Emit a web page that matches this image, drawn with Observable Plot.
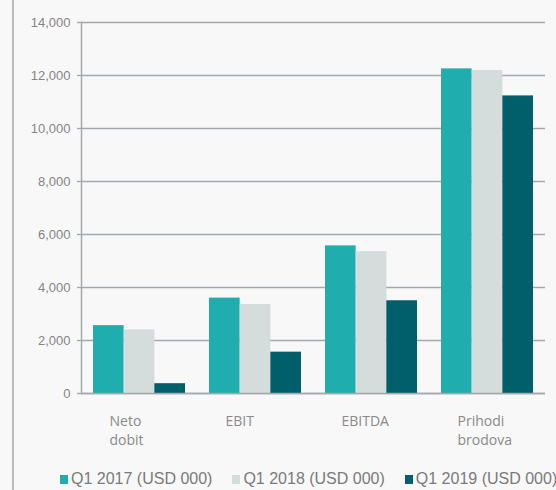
<!DOCTYPE html>
<html>
<head>
<meta charset="utf-8">
<script src="https://cdn.jsdelivr.net/npm/d3@7"></script>
<script src="https://cdn.jsdelivr.net/npm/@observablehq/plot@0.6"></script>
<style>
  html, body { margin: 0; padding: 0; background: #f8f8f8; }
  body { width: 556px; height: 490px; position: relative; overflow: hidden; }
  #edge { position: absolute; left: 12px; top: 0; width: 2px; height: 490px; background: #bcbcbc; }
  #chart { position: absolute; left: 0; top: 0; }
  #legend { position: absolute; left: 60px; top: 470px; display: flex; white-space: nowrap;
            font-family: "Liberation Sans", Arial, sans-serif; font-size: 16px; color: #7a7a7a; }
  .item { display: flex; align-items: center; margin-right: 20px; }
  .sw { width: 8px; height: 9px; margin-right: 3px; }
</style>
</head>
<body>
<div id="edge"></div>
<div id="chart"></div>
<div id="legend"></div>
<script>
const categories = ["Neto dobit", "EBIT", "EBITDA", "Prihodi brodova"];
const seriesNames = ["Q1 2017 (USD 000)", "Q1 2018 (USD 000)", "Q1 2019 (USD 000)"];
const q2017 = [2560, 3600, 5570, 12250];
const q2018 = [2400, 3360, 5350, 12190];
const q2019 = [370, 1560, 3500, 11230];
const yTicks = [0, 2000, 4000, 6000, 8000, 10000, 12000, 14000];
const colors = ["#20adad", "#d5dcdc", "#005f6b"];

const seriesValues = [q2017, q2018, q2019];
const rows = seriesValues.flatMap((vals, s) =>
  categories.map((c, i) => ({cat: c, series: seriesNames[s], value: vals[i]})));

const W = 556, H = 460;
const mL = 81, mR = 11, mT = 22, mB = 67;
const step = (W - mL - mR) / categories.length;
const outer = 12;
const bw = (step - 2 * outer) / seriesNames.length;

const barMarks = seriesNames.map((s, k) =>
  Plot.barY(rows.filter(d => d.series === s), {
    x: "cat", y: "value", fill: colors[k],
    insetLeft: outer + k * bw,
    insetRight: step - outer - (k + 1) * bw
  }));

const gridColor = "#a3a8ad";

const chart = Plot.plot({
  width: W, height: H,
  marginLeft: mL, marginRight: mR, marginTop: mT, marginBottom: mB,
  style: {background: "transparent", fontFamily: "'Liberation Sans', Arial, sans-serif"},
  x: {domain: categories, padding: 0, axis: null, label: null},
  y: {domain: [0, 14000], axis: null, label: null},
  marks: [
    Plot.gridY(yTicks, {stroke: gridColor, strokeOpacity: 1, strokeWidth: 1.3}),
    ...barMarks,
    Plot.ruleY([0], {stroke: gridColor, strokeWidth: 1.3}),
    Plot.frame({anchor: "left", stroke: gridColor, strokeWidth: 1.5}),
    Plot.axisY(yTicks, {
      label: null,
      tickSize: 4, tickPadding: 7, stroke: gridColor, strokeWidth: 1.3,
      fill: "#858585", fontSize: 13, tickFormat: d3.format(",")
    }),
    Plot.axisX({
      label: null,
      tickSize: 0, tickPadding: 19, textAnchor: "start", dx: -30,
      fill: "#8a8a8a", fontSize: 14, lineHeight: 1.36,
      fontFamily: "'Open Sans', 'Noto Sans', sans-serif",
      tickFormat: d => d.replace(" ", "\n")
    })
  ]
});
document.getElementById("chart").appendChild(chart);

const legend = document.getElementById("legend");
seriesNames.forEach((s, k) => {
  const it = document.createElement("div");
  it.className = "item";
  const sw = document.createElement("span");
  sw.className = "sw";
  sw.style.background = colors[k];
  const t = document.createElement("span");
  t.textContent = s;
  it.appendChild(sw); it.appendChild(t);
  legend.appendChild(it);
});
</script>
</body>
</html>
